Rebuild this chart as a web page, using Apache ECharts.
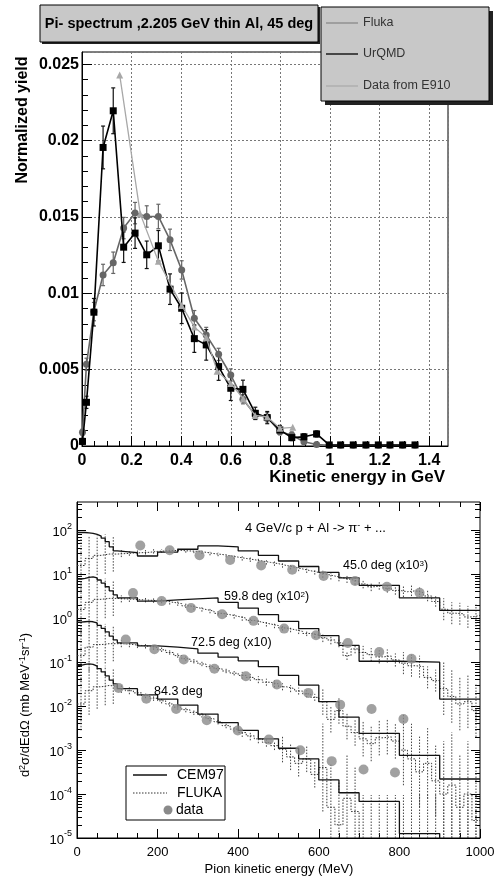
<!DOCTYPE html>
<html><head><meta charset="utf-8">
<script src="https://cdn.jsdelivr.net/npm/echarts@6/dist/echarts.min.js"></script>
<style>html,body{margin:0;padding:0;background:#fff}#c{width:499px;height:877px}</style>
</head><body><div id="c"></div>
<script>
// ---------- TOP PANEL DATA (Pi- spectrum, 2.205 GeV thin Al, 45 deg) ----------
const topTickLabelsX = ['0','0.2','0.4','0.6','0.8','1','1.2','1.4'];
const topX = [0.002,0.018,0.048,0.085,0.126,0.168,0.214,0.261,0.308,0.355,0.402,0.453,0.501,0.551,0.600,0.649,0.699,0.747,0.798,0.846,0.895,0.946,0.997,1.043,1.094,1.145,1.195,1.242,1.293,1.343];
const flukaY = [0.0009,0.00535,0.0088,0.0112,0.0120,0.01427,0.01525,0.01503,0.01503,0.0135,0.01153,0.00837,0.00727,0.0060,0.00465,0.00306,0.00203,0.00188,0.00094,0.00072,0.00028,0.0001,0.00005,0.00005,0.00005,0.00005,0.00005,0.00005,0.00005,0.00005];
const flukaErr = [0.0002,0.0004,0.0006,0.0007,0.0007,0.0007,0.0007,0.0007,0.0008,0.0007,0.0006,0.0005,0.0005,0.0004,0.0004,0.0003,0.0003,0.0003,0.0002,0.0002,0.0001,0.0001,0.00005,0.00005,0.00005,0.00005,0.00005,0.00005,0.00005,0.00005];
const urqmdY = [0.0003,0.00286,0.00876,0.01955,0.02195,0.01302,0.01394,0.01252,0.01311,0.01027,0.00902,0.00703,0.00662,0.0052,0.00378,0.00371,0.00214,0.00186,0.00105,0.00055,0.0006,0.00079,0.00007,0.00007,0.00007,0.00007,0.00007,0.00007,0.00007,0.00007];
const urqmdErr = [0.0002,0.0004,0.0009,0.0014,0.0015,0.0010,0.0010,0.0009,0.0010,0.0010,0.0010,0.0009,0.0010,0.0009,0.0008,0.0006,0.0004,0.0004,0.0003,0.0002,0.0002,0.0002,0.00005,0.00005,0.00005,0.00005,0.00005,0.00005,0.00005,0.00005];
const e910X = [0.152,0.235,0.308,0.402,0.453,0.501,0.545,0.600,0.650,0.698,0.747,0.798,0.850];
const e910Y = [0.0243,0.0152,0.0121,0.0092,0.0078,0.0071,0.0049,0.0041,0.0031,0.0020,0.0019,0.00116,0.00122];

// ---------- BOTTOM PANEL DATA (4 GeV/c p + Al -> pi- + ...) ----------
const cemEdges = [0,10,20,30,40,50,60,70,80,90,100,150,200,250,300,350,400,450,500,550,600,650,700,800,900,1000];
const cem45 = [89,89,87,85,81,74,66,55,42,34,31,26,32,37,44,42,34,27,20,15,11,8.3,5.6,2.9,1.5];
const cem60 = [7.8,8.1,8.5,8.7,8.3,7.4,6.3,5.2,4.2,3.4,2.9,2.45,2.6,2.75,2.9,2.3,1.7,1.2,0.85,0.58,0.40,0.24,0.105,0.1,0.0145];
const cem72 = [0.81,0.83,0.85,0.83,0.78,0.69,0.59,0.49,0.39,0.32,0.275,0.235,0.22,0.2,0.16,0.13,0.107,0.079,0.05,0.03,0.0126,0.0056,0.0024,0.00076,0.00022];
const cem84 = [0.085,0.089,0.091,0.089,0.081,0.071,0.06,0.049,0.039,0.032,0.025,0.018,0.0145,0.0105,0.0066,0.0042,0.0028,0.0018,0.0011,0.00063,0.00021,0.000107,0.000068,0.0000126,0.000001];

const flukaEdges = [0,20,40,60,80,100,120,140,160,180,200,220,240,260,280,300,320,340,360,380,400,420,440,460,480,500,520,540,560,580,600,620,640,660,680,700,720,740,760,780,800,820,840,860,880,900,920,940,960,980,1000];
const fluka45 = [15.8,22.9,26.9,28.8,28.8,29.5,30.2,30.9,31.6,33.1,33.9,34.7,34.7,33.9,33.1,31.6,29.5,28.2,26.3,24.5,22.9,21.4,20.0,18.6,17.4,15.8,14.5,13.2,12.0,11.0,10.0,9.1,8.3,7.6,6.9,6.0,5.2,5.6,4.8,4.3,4.0,4.2,3.8,3.2,2.4,1.6,1.3,1.26,1.07,1.15];
const fluka60 = [1.58,2.29,2.69,2.82,2.82,2.75,2.69,2.63,2.57,2.51,2.45,2.29,2.14,1.91,1.74,1.58,1.45,1.29,1.2,1.1,1.0,0.89,0.81,0.74,0.68,0.6,0.55,0.5,0.45,0.41,0.36,0.32,0.275,0.141,0.2,0.166,0.148,0.132,0.138,0.112,0.095,0.083,0.079,0.045,0.038,0.025,0.0166,0.0112,0.0126,0.0079];
const fluka72 = [0.141,0.219,0.251,0.263,0.263,0.263,0.251,0.24,0.229,0.214,0.191,0.166,0.141,0.12,0.105,0.091,0.079,0.071,0.063,0.056,0.05,0.045,0.04,0.035,0.032,0.0275,0.025,0.022,0.019,0.0158,0.0126,0.005,0.0079,0.0035,0.0025,0.0018,0.0014,0.0019,0.002,0.0016,0.001,0.00063,0.00032,0.0005,0.0002,0.0001,0.00016,0.00005,0.0001,0.000025];
const fluka84 = [0.0112,0.0224,0.0275,0.0295,0.0282,0.0251,0.0224,0.02,0.0174,0.0151,0.0132,0.0112,0.0095,0.0083,0.0072,0.0063,0.0052,0.0044,0.0036,0.003,0.0025,0.0021,0.0018,0.0015,0.00126,0.00105,0.0007,0.0005,0.00063,0.00028,0.0004,0.00005,0.00002,0.00008,0.00004,0.000003,0.000003,0.000003,0.000003,0.000003,0.000003,0.000003,0.000003,0.000003,0.000003,0.000003,0.000003,0.000003,0.000003,0.000003];
// FLUKA error bars, half-width in decades
const flukaErr45 = [0.6,0.5,0.45,0.45,0.4,0.08,0.06,0.05,0.05,0.05,0.04,0.04,0.04,0.04,0.04,0.04,0.04,0.04,0.04,0.04,0.05,0.05,0.05,0.05,0.05,0.05,0.05,0.05,0.05,0.05,0.08,0.08,0.08,0.08,0.08,0.1,0.1,0.1,0.1,0.1,0.12,0.12,0.12,0.12,0.12,0.25,0.25,0.25,0.25,0.25];
const flukaErr60 = [0.6,0.55,0.5,0.45,0.4,0.08,0.06,0.05,0.05,0.05,0.05,0.05,0.05,0.05,0.05,0.05,0.05,0.05,0.05,0.05,0.06,0.06,0.06,0.06,0.06,0.06,0.06,0.06,0.06,0.06,0.1,0.1,0.1,0.1,0.1,0.15,0.15,0.15,0.15,0.15,0.25,0.25,0.25,0.25,0.25,0.6,0.6,0.6,0.6,0.6];
const flukaErr72 = [0.6,0.55,0.5,0.45,0.4,0.08,0.06,0.06,0.05,0.05,0.05,0.05,0.05,0.05,0.05,0.05,0.05,0.05,0.05,0.05,0.08,0.08,0.08,0.08,0.08,0.08,0.08,0.08,0.08,0.08,0.3,0.3,0.3,0.3,0.3,0.4,0.4,0.4,0.4,0.4,0.8,0.8,0.8,0.8,0.8,1.2,1.2,1.2,1.2,1.2];
const flukaErr84 = [0.6,0.55,0.5,0.45,0.4,0.1,0.08,0.06,0.06,0.06,0.06,0.06,0.06,0.06,0.06,0.06,0.06,0.06,0.06,0.06,0.1,0.1,0.1,0.1,0.1,0.3,0.3,0.3,0.3,0.3,1.0,1.0,1.0,1.0,1.0,1.5,1.5,1.5,1.5,1.5,1.5,1.5,1.5,1.5,1.5,1.5,1.5,1.5,1.5,1.5];

const data45E = [157,230,304,380,457,534,612,690,769,850];
const data45V = [45,35,27,21,15.9,12.7,9.1,7.0,5.2,3.8];
const data60E = [139,210,283,360,438,514,593,672,750,830];
const data60V = [3.75,2.45,1.71,1.23,0.87,0.58,0.41,0.274,0.17,0.12];
const data72E = [121,192,265,341,419,496,574,653,731,810];
const data72V = [0.326,0.196,0.115,0.071,0.048,0.031,0.020,0.0108,0.0086,0.0051];
const data84E = [103,172,246,322,399,476,554,632,711,789];
const data84V = [0.026,0.0148,0.0086,0.0048,0.0028,0.00173,0.00099,0.00056,0.00036,0.00031];

const yMajorBot = [1e-5,1e-4,1e-3,1e-2,1e-1,1,10,100];

// ---------- helpers ----------
const FF = "'Liberation Sans', Arial, Helvetica, sans-serif";
const Y_MIN = 1e-5, Y_MAX = 440;
function hist(edges, vals){ const d=[]; for(let i=0;i<vals.length;i++) d.push([edges[i], vals[i]]); d.push([edges[vals.length], vals[vals.length-1]]); return d; }
function ax(extra){ return Object.assign({type:'value', axisLine:{show:false,onZero:false}, axisLabel:{show:false}, splitLine:{show:false}, axisTick:{show:false}, minorTick:{show:false}}, extra); }

const xMinorTop=[]; for(let k=1;k*0.05<1.47;k++) if(k%4) xMinorTop.push(+(k*0.05).toFixed(2));
const yMinorTop=[]; for(let k=1;k<=25;k++) if(k%5) yMinorTop.push(+(k*0.001).toFixed(3));
const xMinorBot=[]; for(let k=1;k<20;k++) if(k%4) xMinorBot.push(k*50);
const yMinorBot=[]; for(let e=-5;e<=2;e++) for(let m=2;m<=9;m++){ const v=+(m*Math.pow(10,e)).toPrecision(3); if(v<Y_MAX) yMinorBot.push(v); }

function topErr(xs, ys, es, color){
  return {type:'custom', xAxisIndex:0, yAxisIndex:0, silent:true, z:2, data: xs.map((x,i)=>[x, ys[i], es[i]]),
    renderItem:(p,api)=>{ const x=api.value(0), y=api.value(1), e=api.value(2);
      const a=api.coord([x, Math.max(0,y-e)]), b=api.coord([x, y+e]); const w=2;
      const st={stroke:color, lineWidth:1.2};
      return {type:'group', children:[
        {type:'line', shape:{x1:a[0],y1:a[1],x2:b[0],y2:b[1]}, style:st},
        {type:'line', shape:{x1:a[0]-w,y1:a[1],x2:a[0]+w,y2:a[1]}, style:st},
        {type:'line', shape:{x1:b[0]-w,y1:b[1],x2:b[0]+w,y2:b[1]}, style:st}]};
    }};
}
function flukaErrSeries(edges, vals, errs){
  return {type:'custom', xAxisIndex:2, yAxisIndex:2, silent:true, z:2,
    data: vals.map((v,i)=>[(edges[i]+edges[i+1])/2, v, errs[i]]),
    renderItem:(p,api)=>{ const x=api.value(0), v=api.value(1), e=api.value(2);
      const lo=Math.max(Y_MIN, v*Math.pow(10,-e)), hi=Math.min(Y_MAX, v*Math.pow(10,e));
      if(hi<=Y_MIN) return null;
      const a=api.coord([x, lo]), b=api.coord([x, hi]);
      return {type:'line', shape:{x1:a[0],y1:a[1],x2:b[0],y2:b[1]}, style:{stroke:'#444', lineWidth:1, lineDash:[1.5,1.5]}};
    }};
}
function cemSeries(vals){ return {type:'line', xAxisIndex:2, yAxisIndex:2, step:'end', symbol:'none', data:hist(cemEdges, vals), lineStyle:{color:'#111', width:1.3}, z:3}; }
function flukaSeries(vals){ return {type:'line', xAxisIndex:2, yAxisIndex:2, step:'end', symbol:'none', data:hist(flukaEdges, vals), lineStyle:{color:'#333', width:1, type:[1.5,1.5]}, z:3}; }
function dataSeries(es, vs){ return {type:'scatter', xAxisIndex:2, yAxisIndex:2, symbol:'circle', symbolSize:10, data: es.map((e,i)=>[e, vs[i]]), itemStyle:{color:'#8a8a8a'}, z:5}; }

const tickBlack = {color:'#000', width:1};
const option = {
  animation:false,
  grid:[
    {left:82, top:52, width:366, height:394, show:true, borderColor:'#000', borderWidth:1, backgroundColor:'rgba(0,0,0,0)', outerBoundsMode:'none', containLabel:false},
    {left:77, top:502, width:403, height:336, show:true, borderColor:'#000', borderWidth:1, backgroundColor:'rgba(0,0,0,0)', outerBoundsMode:'none', containLabel:false}
  ],
  xAxis:[
    ax({gridIndex:0, position:'bottom', min:0, max:1.476, interval:0.2,
        axisLine:{show:true,onZero:false,lineStyle:tickBlack},
        axisTick:{show:true, inside:true, length:10, lineStyle:tickBlack},
        splitLine:{show:true, lineStyle:{color:'#777', width:1, type:[2,2]}},
        axisLabel:{show:true, showMaxLabel:false, fontSize:16, fontWeight:'bold', color:'#000', fontFamily:FF, margin:7,
                   formatter:(v)=>{ const i=Math.round(v/0.2); return Math.abs(v-i*0.2)<1e-6 ? topTickLabelsX[i] : ''; }}}),
    ax({gridIndex:0, position:'bottom', min:0, max:1.476, axisTick:{show:true, inside:true, length:5, customValues:xMinorTop, lineStyle:tickBlack}}),
    ax({gridIndex:1, position:'bottom', min:0, max:1000, interval:200,
        axisLine:{show:true,onZero:false,lineStyle:tickBlack},
        axisTick:{show:true, inside:true, length:9, lineStyle:tickBlack},
        axisLabel:{show:true, fontSize:13, color:'#000', fontFamily:FF, margin:8, formatter:(v)=>String(v)}}),
    ax({gridIndex:1, position:'bottom', min:0, max:1000, axisTick:{show:true, inside:true, length:5, customValues:xMinorBot, lineStyle:tickBlack}}),
    ax({gridIndex:1, position:'top', min:0, max:1000, interval:200, axisTick:{show:true, inside:true, length:9, lineStyle:tickBlack}}),
    ax({gridIndex:1, position:'top', min:0, max:1000, axisTick:{show:true, inside:true, length:5, customValues:xMinorBot, lineStyle:tickBlack}})
  ],
  yAxis:[
    ax({gridIndex:0, position:'left', min:0, max:0.0258, interval:0.005,
        axisLine:{show:true,onZero:false,lineStyle:tickBlack},
        axisTick:{show:true, inside:true, length:10, lineStyle:tickBlack},
        splitLine:{show:true, lineStyle:{color:'#777', width:1, type:[2,2]}},
        axisLabel:{show:true, showMaxLabel:false, fontSize:16, fontWeight:'bold', color:'#000', fontFamily:FF, margin:3}}),
    ax({gridIndex:0, position:'left', min:0, max:0.0258, axisTick:{show:true, inside:true, length:6, customValues:yMinorTop, lineStyle:tickBlack}}),
    ax({gridIndex:1, type:'log', position:'left', min:Y_MIN, max:Y_MAX,
        axisLine:{show:true,onZero:false,lineStyle:tickBlack},
        axisTick:{show:true, inside:true, length:9, customValues:yMajorBot, lineStyle:tickBlack},
        axisLabel:{show:true, customValues:yMajorBot, margin:5, color:'#000',
          formatter:(v)=>'{b|10}{s|'+Math.round(Math.log10(v))+'}',
          rich:{b:{fontSize:13, fontFamily:FF, color:'#000', lineHeight:17, verticalAlign:'bottom'}, s:{fontSize:9, fontFamily:FF, color:'#000', lineHeight:10, verticalAlign:'top'}}}}),
    ax({gridIndex:1, type:'log', position:'left', min:Y_MIN, max:Y_MAX, axisTick:{show:true, inside:true, length:5, customValues:yMinorBot, lineStyle:tickBlack}}),
    ax({gridIndex:1, type:'log', position:'right', min:Y_MIN, max:Y_MAX, axisTick:{show:true, inside:true, length:9, customValues:yMajorBot, lineStyle:tickBlack}}),
    ax({gridIndex:1, type:'log', position:'right', min:Y_MIN, max:Y_MAX, axisTick:{show:true, inside:true, length:5, customValues:yMinorBot, lineStyle:tickBlack}})
  ],
  series:[
    topErr(topX, flukaY, flukaErr, '#666'),
    topErr(topX, urqmdY, urqmdErr, '#111'),
    {type:'line', name:'Fluka', xAxisIndex:0, yAxisIndex:0, data: topX.map((x,i)=>[x, flukaY[i]]), symbol:'circle', symbolSize:7, itemStyle:{color:'#666'}, lineStyle:{color:'#666', width:1.6}, z:3},
    {type:'line', name:'UrQMD', xAxisIndex:0, yAxisIndex:0, data: topX.map((x,i)=>[x, urqmdY[i]]), symbol:'rect', symbolSize:7, itemStyle:{color:'#000'}, lineStyle:{color:'#000', width:1.6}, z:4},
    {type:'line', name:'Data from E910', xAxisIndex:0, yAxisIndex:0, data: e910X.map((x,i)=>[x, e910Y[i]]), symbol:'triangle', symbolSize:7, itemStyle:{color:'#a8a8a8'}, lineStyle:{color:'#a8a8a8', width:1.3}, z:5},
    flukaErrSeries(flukaEdges, fluka45, flukaErr45),
    flukaErrSeries(flukaEdges, fluka60, flukaErr60),
    flukaErrSeries(flukaEdges, fluka72, flukaErr72),
    flukaErrSeries(flukaEdges, fluka84, flukaErr84),
    flukaSeries(fluka45), flukaSeries(fluka60), flukaSeries(fluka72), flukaSeries(fluka84),
    cemSeries(cem45), cemSeries(cem60), cemSeries(cem72), cemSeries(cem84),
    dataSeries(data45E, data45V), dataSeries(data60E, data60V), dataSeries(data72E, data72V), dataSeries(data84E, data84V)
  ],
  graphic:{elements:[
    // title box
    {type:'rect', shape:{x:42,y:7,width:278,height:37}, style:{fill:'#222'}, z:100},
    {type:'rect', shape:{x:40,y:5,width:278,height:37}, style:{fill:'#c8c8c8', stroke:'#000', lineWidth:1}, z:101},
    {type:'text', x:179, y:24, z:102, style:{text:'Pi- spectrum ,2.205 GeV thin Al, 45 deg', fontSize:14.5, fontWeight:'bold', fontFamily:FF, fill:'#000', align:'center', verticalAlign:'middle'}},
    // legend box
    {type:'rect', shape:{x:325,y:11,width:168,height:94}, style:{fill:'#222'}, z:100},
    {type:'rect', shape:{x:321,y:7,width:168,height:94}, style:{fill:'#c8c8c8', stroke:'#000', lineWidth:1}, z:101},
    {type:'line', shape:{x1:326,y1:23,x2:358,y2:23}, style:{stroke:'#888', lineWidth:1.3}, z:102},
    {type:'line', shape:{x1:326,y1:54,x2:358,y2:54}, style:{stroke:'#000', lineWidth:1.3}, z:102},
    {type:'line', shape:{x1:326,y1:86,x2:358,y2:86}, style:{stroke:'#aaa', lineWidth:1.3}, z:102},
    {type:'text', x:363, y:23, z:102, style:{text:'Fluka', fontSize:12.5, fontFamily:FF, fill:'#333', verticalAlign:'middle'}},
    {type:'text', x:363, y:54, z:102, style:{text:'UrQMD', fontSize:12.5, fontFamily:FF, fill:'#333', verticalAlign:'middle'}},
    {type:'text', x:363, y:86, z:102, style:{text:'Data from E910', fontSize:12.5, fontFamily:FF, fill:'#333', verticalAlign:'middle'}},
    // top axis titles
    {type:'text', x:23, y:120, rotation:Math.PI/2, z:102, style:{text:'Normalized yield', fontSize:16, fontWeight:'bold', fontFamily:FF, fill:'#000', align:'center', verticalAlign:'middle'}},
    {type:'text', x:445, y:477, z:102, style:{text:'Kinetic energy in GeV', fontSize:17, fontWeight:'bold', fontFamily:FF, fill:'#000', align:'right', verticalAlign:'middle'}},
    // bottom annotations
    {type:'text', x:245, y:528, z:102, style:{text:'4 GeV/c p + Al -> π{s|-} + ...', fontSize:13, fontFamily:FF, fill:'#000', verticalAlign:'middle', rich:{s:{fontSize:9, fontFamily:FF, verticalAlign:'top'}}}},
    {type:'text', x:343, y:566, z:102, style:{text:'45.0 deg (x10{s|3})', fontSize:12.5, fontFamily:FF, fill:'#000', verticalAlign:'middle', rich:{s:{fontSize:8, fontFamily:FF, verticalAlign:'top'}}}},
    {type:'text', x:224, y:597, z:102, style:{text:'59.8 deg (x10{s|2})', fontSize:12.5, fontFamily:FF, fill:'#000', verticalAlign:'middle', rich:{s:{fontSize:8, fontFamily:FF, verticalAlign:'top'}}}},
    {type:'text', x:191, y:643, z:102, style:{text:'72.5 deg (x10)', fontSize:12.5, fontFamily:FF, fill:'#000', verticalAlign:'middle'}},
    {type:'text', x:154, y:692, z:102, style:{text:'84.3 deg', fontSize:12.5, fontFamily:FF, fill:'#000', verticalAlign:'middle'}},
    // bottom legend
    {type:'rect', shape:{x:126,y:766,width:99,height:54}, style:{fill:'#fff', stroke:'#000', lineWidth:1}, z:101},
    {type:'line', shape:{x1:133,y1:775,x2:167,y2:775}, style:{stroke:'#111', lineWidth:1.3}, z:102},
    {type:'line', shape:{x1:133,y1:793,x2:167,y2:793}, style:{stroke:'#333', lineWidth:1, lineDash:[1.5,1.5]}, z:102},
    {type:'circle', shape:{cx:168,cy:810,r:4.5}, style:{fill:'#8a8a8a'}, z:102},
    {type:'text', x:177, y:775, z:102, style:{text:'CEM97', fontSize:14, fontFamily:FF, fill:'#000', verticalAlign:'middle'}},
    {type:'text', x:177, y:793, z:102, style:{text:'FLUKA', fontSize:14, fontFamily:FF, fill:'#000', verticalAlign:'middle'}},
    {type:'text', x:176, y:810, z:102, style:{text:'data', fontSize:14, fontFamily:FF, fill:'#000', verticalAlign:'middle'}},
    // bottom axis titles
    {type:'text', x:25, y:705, rotation:Math.PI/2, z:102, style:{text:'d{s|2}σ/dEdΩ (mb MeV{s|-1}sr{s|-1})', fontSize:13, fontFamily:FF, fill:'#000', align:'center', verticalAlign:'middle', rich:{s:{fontSize:9, fontFamily:FF, verticalAlign:'top'}}}},
    {type:'text', x:279, y:869, z:102, style:{text:'Pion kinetic energy (MeV)', fontSize:13, fontFamily:FF, fill:'#000', align:'center', verticalAlign:'middle'}}
  ]}
};
const chart = echarts.init(document.getElementById('c'), null, {renderer:'canvas', width:499, height:877});
chart.setOption(option);
</script>
</body></html>
